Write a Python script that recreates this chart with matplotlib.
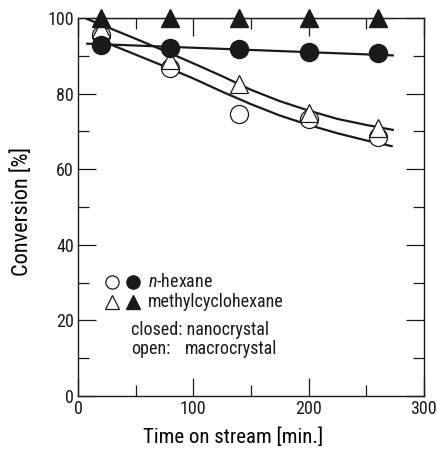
import matplotlib
matplotlib.use("Agg")
import matplotlib.pyplot as plt
from matplotlib.ticker import MultipleLocator
from matplotlib import font_manager

names = {f.name for f in font_manager.fontManager.ttflist}
fam = "Liberation Sans"
for cand in ["Nimbus Sans Narrow", "Liberation Sans Narrow", "Arial Narrow", "Roboto Condensed",
             "Archivo Narrow", "PT Sans Narrow", "Encode Sans Condensed"]:
    if cand in names:
        fam = cand
        break
plt.rcParams["font.family"] = [fam, "DejaVu Sans"]
plt.rcParams["mathtext.fontset"] = "custom"
plt.rcParams["mathtext.it"] = fam + ":italic"
plt.rcParams["mathtext.rm"] = fam

# measured data
time = [20, 80, 140, 200, 260]
hex_nano = [92.9, 92.0, 91.8, 91.0, 90.6]
hex_macro = [95.5, 86.8, 74.6, 73.2, 68.6]
mch_nano = [100.0, 100.0, 100.0, 100.0, 100.0]
mch_macro = [97.0, 89.0, 82.6, 74.8, 71.0]

# fitted curves
fit_hex_nano_t = [8, 273]
fit_hex_nano_y = [93.2, 90.1]
fit_mch_nano_t = [8, 273]
fit_mch_nano_y = [100.0, 100.0]
fit_mch_macro_t = [8, 30, 50, 75, 100, 125, 150, 175, 200, 225, 250, 273]
fit_mch_macro_y = [99.7, 97.0, 94.5, 91.3, 88.0, 84.6, 81.0, 78.0, 75.5, 73.3, 71.7, 70.4]
fit_hex_macro_t = [20, 50, 75, 100, 125, 150, 175, 200, 225, 250, 272]
fit_hex_macro_y = [94.0, 90.3, 87.2, 84.0, 80.5, 77.2, 74.2, 71.7, 69.5, 67.6, 66.1]

fig = plt.figure(figsize=(4.37, 4.49), dpi=100)
ax = fig.add_axes([0.1785, 0.118, 0.7915, 0.842])

lw = 1.6
ax.plot(fit_mch_nano_t, fit_mch_nano_y, color="#1a1a1a", lw=lw, zorder=2)
ax.plot(fit_hex_nano_t, fit_hex_nano_y, color="#1a1a1a", lw=lw, zorder=2)
ax.plot(fit_mch_macro_t, fit_mch_macro_y, color="#1a1a1a", lw=lw, zorder=2)
ax.plot(fit_hex_macro_t, fit_hex_macro_y, color="#1a1a1a", lw=lw, zorder=2)

ms = 13
ax.plot(time, hex_macro, "o", ms=ms, mfc="white", mec="#1a1a1a", mew=0.9, zorder=3, clip_on=False)
ax.plot(time, mch_macro, "^", ms=ms, mfc="white", mec="#1a1a1a", mew=0.9, zorder=4, clip_on=False)
ax.plot(time, hex_nano, "o", ms=ms, mfc="#1a1a1a", mec="#1a1a1a", zorder=5, clip_on=False)
ax.plot(time, mch_nano, "^", ms=ms, mfc="#1a1a1a", mec="#1a1a1a", zorder=6, clip_on=False)

ax.set_xlim(0, 300)
ax.set_ylim(0, 100)
ax.xaxis.set_major_locator(MultipleLocator(100))
ax.xaxis.set_minor_locator(MultipleLocator(50))
ax.yaxis.set_major_locator(MultipleLocator(20))
ax.yaxis.set_minor_locator(MultipleLocator(10))
ax.tick_params(which="both", direction="in", top=True, right=True, width=0.9, labelsize=13, colors="#1a1a1a")
ax.tick_params(which="major", length=13, pad=3)
ax.tick_params(which="minor", length=8)
for s in ax.spines.values():
    s.set_linewidth(1.0)
    s.set_color("#1a1a1a")

ax.set_xlabel("Time on stream [min.]", fontsize=15)
ax.set_ylabel("Conversion [%]", fontsize=16)
ax.xaxis.set_label_coords((233.5 - 78) / 346.0, -(437 - 396) / 378.0)
ax.xaxis.label.set_va("center")
ax.yaxis.set_label_coords(-(78 - 22) / 346.0, (396 - 212) / 378.0)
ax.yaxis.label.set_va("center")

# legend-like annotation
tr = ax.transAxes
def fx(px):
    return (px - 78) / 346.0
def fy(py):
    return (396 - py) / 378.0

lms = 9.5
ax.plot([fx(112)], [fy(282)], "o", ms=lms, mfc="white", mec="#1a1a1a", mew=0.9, transform=tr, clip_on=False)
ax.plot([fx(133)], [fy(282)], "o", ms=lms, mfc="#1a1a1a", mec="#1a1a1a", transform=tr, clip_on=False)
ax.plot([fx(112)], [fy(302)], "^", ms=lms, mfc="white", mec="#1a1a1a", mew=0.9, transform=tr, clip_on=False)
ax.plot([fx(133)], [fy(302)], "^", ms=lms, mfc="#1a1a1a", mec="#1a1a1a", transform=tr, clip_on=False)
fs = 13
ax.text(fx(148), fy(282), r"$\it{n}$-hexane", fontsize=fs, va="center", ha="left", transform=tr, color="#1a1a1a")
ax.text(fx(148), fy(302), "methylcyclohexane", fontsize=fs, va="center", ha="left", transform=tr, color="#1a1a1a")
ax.text(fx(131), fy(330), "closed: nanocrystal", fontsize=fs, va="center", ha="left", transform=tr, color="#1a1a1a")
ax.text(fx(131), fy(349), "open:", fontsize=fs, va="center", ha="left", transform=tr, color="#1a1a1a")
ax.text(fx(185), fy(349), "macrocrystal", fontsize=fs, va="center", ha="left", transform=tr, color="#1a1a1a")

fig.savefig("out.png", dpi=100)
